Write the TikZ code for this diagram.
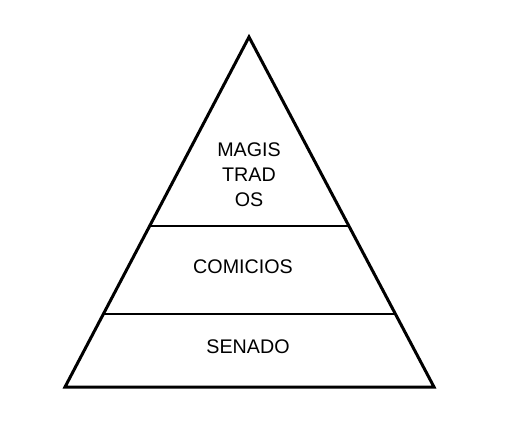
\documentclass[tikz,border=0pt]{standalone}
\usepackage{fontspec}
\setmainfont{Liberation Sans}
\begin{document}
\begin{tikzpicture}[x=1bp,y=-1bp,
  tri/.style={draw=black,line width=3bp,line join=miter},
  sep/.style={draw=black,line width=1.3bp},
  lbl/.style={font=\fontsize{19.7bp}{25bp}\selectfont,align=center,inner sep=0pt}]
\useasboundingbox (0,0) rectangle (524,421);
\coordinate (A) at (249,37);
\coordinate (BL) at (65,387);
\coordinate (BR) at (434,387);
\draw[tri] (A) -- (BL) -- (BR) -- cycle;
\coordinate (L1) at (149.6,226);
\coordinate (R1) at (348.2,226);
\coordinate (L2) at (103.6,314);
\coordinate (R2) at (395.6,314);
\draw[sep] (L1) -- (R1);
\draw[sep] (L2) -- (R2);
\node[lbl] (mag) at (249,175) {MAGIS\\TRAD\\OS};
\node[lbl] (com) at (243,267) {COMICIOS};
\node[lbl] (sen) at (248,347) {SENADO};
\end{tikzpicture}
\end{document}
